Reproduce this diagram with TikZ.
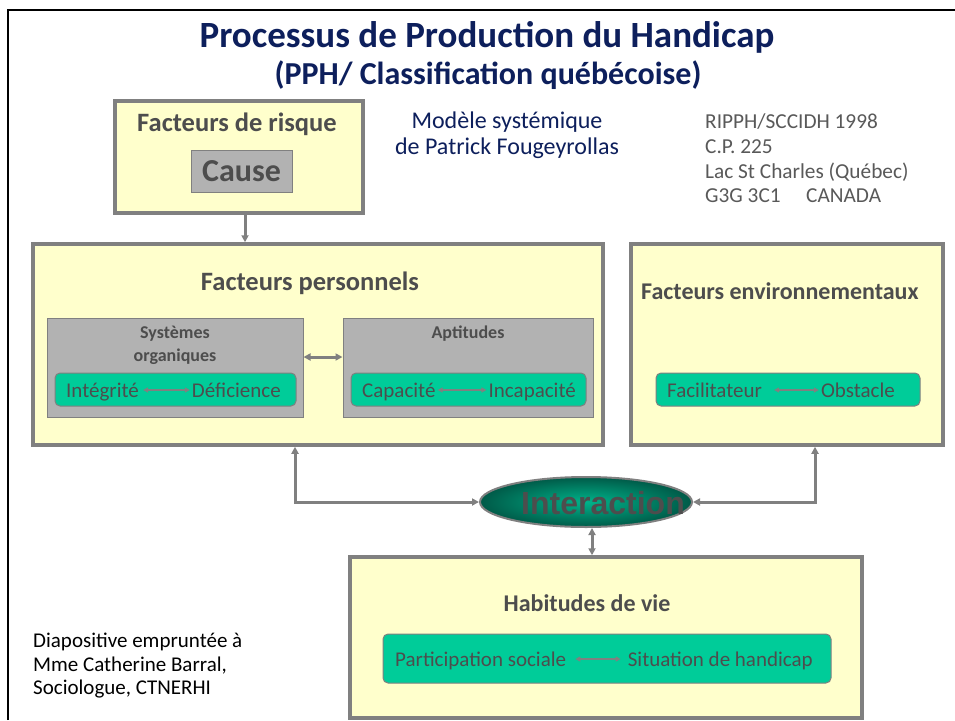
\documentclass[tikz,border=0pt]{standalone}
\usepackage{fontspec}
\setmainfont{Carlito}
\newfontfamily\arialfont{Liberation Sans}
\usetikzlibrary{arrows.meta,shapes.geometric}
\definecolor{yfill}{HTML}{FFFFCC}
\definecolor{bgray}{HTML}{808080}
\definecolor{ggray}{HTML}{B2B2B2}
\definecolor{tgreen}{HTML}{00CC99}
\definecolor{tdark}{HTML}{4D4D4D}
\definecolor{navy}{HTML}{0D1F5C}
\definecolor{addr}{HTML}{595959}
\definecolor{darkgreen}{HTML}{005A48}
\definecolor{midgreen}{HTML}{00B38A}
\tikzset{
  ybox/.style={draw=bgray, line width=3.5, fill=yfill, inner sep=0},
  gbox/.style={draw=bgray, line width=1, fill=ggray, inner sep=0},
  greenbox/.style={draw=bgray, line width=1, fill=tgreen, rounded corners=5, inner sep=0},
  btitle/.style={font=\fontsize{26.5}{30}\selectfont\bfseries, text=tdark, inner sep=0},
  stitle/.style={font=\fontsize{18}{23}\selectfont\bfseries, text=tdark, inner sep=0, align=center},
  gtext/.style={font=\fontsize{21}{24}\selectfont, text=tdark, inner sep=0},
  conn/.style={draw=bgray, line width=3, {Triangle[length=7,width=7]}-{Triangle[length=7,width=7]}},
  conndown/.style={draw=bgray, line width=3, -{Triangle[length=7,width=7]}},
  smallconn/.style={draw=bgray, line width=2.5, {Triangle[length=5,width=5]}-{Triangle[length=5,width=5]}},
}
\begin{document}
\begin{tikzpicture}[x=1pt,y=-1pt]
\useasboundingbox (0,0) rectangle (955,720);
\fill[white] (0,0) rectangle (955,720);
% frame
\draw[black, line width=2.5] (8,720) -- (8,10) -- (955,10);

% title
\node[font=\fontsize{37}{42}\selectfont\bfseries, text=navy, inner sep=0] (title) at (487,37) {Processus de Production du Handicap};
\node[font=\fontsize{32}{36}\selectfont\bfseries, text=navy, inner sep=0] (subtitle) at (488,75) {(PPH/ Classification québécoise)};

% modele
\node[font=\fontsize{24}{26}\selectfont, text=navy, align=center, inner sep=0] (modele) at (507,135) {Modèle systémique\\de Patrick Fougeyrollas};
\node[font=\fontsize{21.3}{24.6}\selectfont, text=addr, align=left, anchor=north west, inner sep=0] (addr) at (705,114) {RIPPH/SCCIDH 1998\\C.P. 225\\Lac St Charles (Québec)\\G3G 3C1\hspace{1.2em}CANADA};

% credit
\node[font=\fontsize{21}{23.5}\selectfont, text=black, align=left, anchor=north west, inner sep=0] (credit) at (33,633) {Diapositive empruntée à\\Mme Catherine Barral,\\Sociologue, CTNERHI};

% Facteurs de risque
\node[ybox, minimum width=248, minimum height=112] (risk) at (239,157) {};
\node[btitle] (risktitle) at (237,124) {Facteurs de risque};
\node[gbox, minimum width=101, minimum height=42, font=\fontsize{32}{34}\selectfont\bfseries, text=tdark] (cause) at (241.5,171) {Cause};

% Facteurs personnels
\node[ybox, minimum width=570, minimum height=201] (perso) at (318,344.5) {};
\node[btitle] (persotitle) at (310,283) {Facteurs personnels};
\node[gbox, minimum width=256, minimum height=99] (sys) at (175,367.5) {};
\node[stitle] (systitle) at (175,345) {Systèmes\\organiques};
\node[gbox, minimum width=250, minimum height=99] (apt) at (468,367.5) {};
\node[stitle] (apttitle) at (468,334) {Aptitudes};
\node[greenbox, minimum width=241, minimum height=33] (g1) at (175.5,389.5) {};
\node[gtext, anchor=base west] (integ) at (66,397) {Intégrité};
\node[gtext, anchor=base east] (defic) at (281,397) {Déficience};
\node[greenbox, minimum width=235, minimum height=33] (g2) at (468.5,389.5) {};
\node[gtext, anchor=base west] (capa) at (362,397) {Capacité};
\node[gtext, anchor=base east] (incapa) at (576,397) {Incapacité};

% Facteurs environnementaux
\node[ybox, minimum width=312, minimum height=201] (env) at (787,344.5) {};
\node[btitle, font=\fontsize{24}{28}\selectfont\bfseries, anchor=west] (envtitle) at (641,291) {Facteurs environnementaux};
\node[greenbox, minimum width=264, minimum height=33] (g3) at (788,389.5) {};
\node[gtext, anchor=base west] (facil) at (667,397) {Facilitateur};
\node[gtext, anchor=base east] (obst) at (895,397) {Obstacle};

% Interaction
\node[ellipse, draw=bgray, line width=2, inner color=midgreen, outer color=darkgreen, minimum width=212, minimum height=50, inner sep=0] (inter) at (586,502) {};
\node[font=\arialfont\fontsize{32}{36}\selectfont\bfseries, text=tdark, inner sep=0] (intertext) at (603,503) {Interaction};

% Habitudes de vie
\node[ybox, minimum width=512, minimum height=161] (habit) at (606,637.5) {};
\node[btitle, font=\fontsize{24}{28}\selectfont\bfseries] (habittitle) at (587,603) {Habitudes de vie};
\node[greenbox, minimum width=448, minimum height=49] (g4) at (607,658.5) {};
\node[gtext, anchor=base west] (partic) at (395,666) {Participation sociale};
\node[gtext, anchor=base east] (situ) at (813,666) {Situation de handicap};

% connectors
\coordinate (rx) at (245,0);
\coordinate (px) at (295,0);
\coordinate (ex) at (815,0);
\coordinate (hx) at (592,0);
\draw[conndown] (risk.south -| rx) -- (perso.north -| rx);
\draw[conn] (sys.east |- 0,357) -- (apt.west |- 0,357);
\draw[conn] (perso.south -| px) |- (inter.west);
\draw[conn] (env.south -| ex) |- (inter.east);
\draw[conn] (inter.south -| hx) -- (habit.north -| hx);
\draw[smallconn] ([xshift=4]integ.east |- 0,390) -- ([xshift=-2]defic.west |- 0,390);
\draw[smallconn] ([xshift=2]capa.east |- 0,390) -- ([xshift=-2]incapa.west |- 0,390);
\draw[smallconn] ([xshift=12]facil.east |- 0,390) -- ([xshift=-2]obst.west |- 0,390);
\draw[smallconn] ([xshift=9]partic.east |- 0,659) -- ([xshift=-7]situ.west |- 0,659);
\end{tikzpicture}
\end{document}
